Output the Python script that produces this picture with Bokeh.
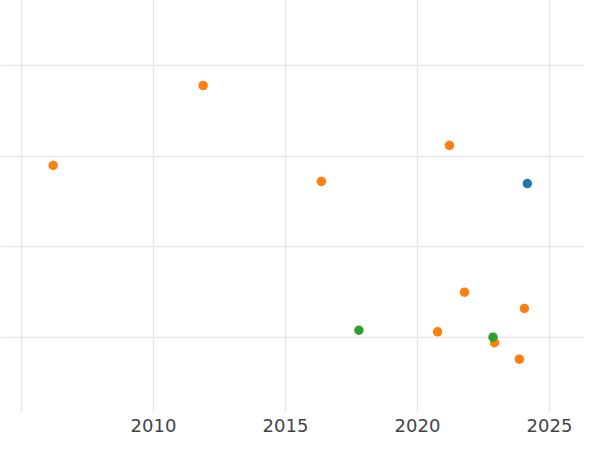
from bokeh.plotting import figure
from bokeh.models import Range1d, FixedTicker, Grid
from bokeh.embed import file_html
from bokeh.resources import INLINE

# ---- data ----
orange_year = [2006.20, 2011.88, 2016.36, 2021.21, 2021.78, 2024.05, 2022.92, 2023.86, 2020.76]
orange_val = [1.897, 2.779, 1.721, 2.118, 0.500, 0.320, -0.058, -0.239, 0.063]
blue_year = [2024.16]
blue_val = [1.698]
green_year = [2017.78, 2022.86]
green_val = [0.080, 0.003]

x_ticks = [2005, 2010, 2015, 2020, 2025]
y_ticks = [0, 1, 2, 3]

W, H = 584, 434
bottom_border = 22
frame_h = H - bottom_border
px_per_year = 26.4
px_per_unit = 90.67
x_start = 2005 - 21 / px_per_year
y_top = 337 / px_per_unit

p = figure(width=W, height=H, output_backend="svg", toolbar_location=None,
           x_range=Range1d(x_start, x_start + W / px_per_year),
           y_range=Range1d(y_top - frame_h / px_per_unit, y_top),
           y_axis_location=None,
           min_border_left=0, min_border_right=0, min_border_top=0,
           min_border_bottom=bottom_border)
p.outline_line_color = None
p.background_fill_color = "white"
p.border_fill_color = "white"

p.xaxis.ticker = FixedTicker(ticks=x_ticks)
p.xaxis.major_label_overrides = {2005: ""}
p.xaxis.axis_line_color = None
p.xaxis.major_tick_line_color = None
p.xaxis.minor_tick_line_color = None
p.xaxis.major_label_standoff = 0
p.xaxis.major_label_text_font = "DejaVu Sans"
p.xaxis.major_label_text_font_size = "18px"
p.xaxis.major_label_text_color = "#444444"

p.xgrid.grid_line_color = "#e8e8e8"
p.xgrid.grid_line_width = 1.5
yg = Grid(dimension=1, ticker=FixedTicker(ticks=y_ticks),
          grid_line_color="#e8e8e8", grid_line_width=1.5)
p.add_layout(yg)

for xs, ys, c in [(orange_year, orange_val, "#ff7f0e"),
                  (blue_year, blue_val, "#1f77b4"),
                  (green_year, green_val, "#2ca02c")]:
    p.scatter(xs, ys, size=9.5, fill_color=c, line_color=None)

open("out.html", "w").write(file_html(p, INLINE))
